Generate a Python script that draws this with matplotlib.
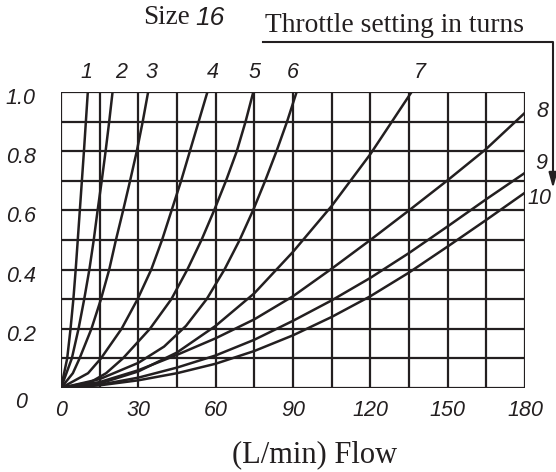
import matplotlib
matplotlib.use("Agg")
import matplotlib.pyplot as plt
import matplotlib.transforms as mtransforms
from matplotlib.lines import Line2D

# curves: flow (L/min) vs pressure (MPa), throttle turns 1..10
turns = ["1", "2", "3", "4", "5", "6", "7", "8", "9", "10"]

x1 = [0, 2.4, 3.7, 4.8, 5.7, 6.5, 7.3, 8.1, 8.9, 9.65, 10.4]
y1 = [0, 0.1, 0.2, 0.3, 0.4, 0.5, 0.6, 0.7, 0.8, 0.9, 1.0]
x2 = [0, 4.2, 6.8, 9.0, 11.0, 12.7, 14.2, 15.8, 17.3, 18.7, 20.0]
y2 = [0, 0.1, 0.2, 0.3, 0.4, 0.5, 0.6, 0.7, 0.8, 0.9, 1.0]
x3 = [0, 4.6, 7.2, 11.8, 15.5, 18.7, 21.3, 24.1, 26.8, 29.4, 31.7, 33.8]
y3 = [0, 0.05, 0.1, 0.2, 0.3, 0.4, 0.5, 0.6, 0.7, 0.8, 0.9, 1.0]
x4 = [0, 10.5, 15.5, 23.5, 29.7, 35.0, 39.2, 42.9, 46.6, 50.0, 53.4, 56.8]
y4 = [0, 0.05, 0.1, 0.2, 0.3, 0.4, 0.5, 0.6, 0.7, 0.8, 0.9, 1.0]
x5 = [0, 11.5, 17.5, 24.0, 34.5, 42.8, 49.0, 54.5, 59.4, 64.0, 68.2, 71.6, 74.6]
y5 = [0, 0.02, 0.05, 0.1, 0.2, 0.3, 0.4, 0.5, 0.6, 0.7, 0.8, 0.9, 1.0]
x6 = [0, 15, 30, 40, 48.5, 56.5, 63.4, 69.3, 74.5, 79.2, 83.6, 87.7, 91.4]
y6 = [0, 0.03, 0.085, 0.14, 0.21, 0.3, 0.4, 0.5, 0.6, 0.7, 0.8, 0.9, 1.0]
x7 = [0, 15, 30, 45, 60, 75, 90, 105, 120, 136]
y7 = [0, 0.015, 0.056, 0.12, 0.21, 0.32, 0.46, 0.615, 0.79, 1.0]
x8 = [0, 15, 30, 45, 60, 75, 90, 105, 120, 135, 150, 165, 180]
y8 = [0, 0.02, 0.06, 0.112, 0.168, 0.232, 0.31, 0.403, 0.5, 0.6, 0.702, 0.808, 0.93]
x9 = [0, 15, 30, 45, 60, 75, 90, 105, 120, 135, 150, 165, 180]
y9 = [0, 0.011, 0.035, 0.069, 0.11, 0.163, 0.227, 0.296, 0.372, 0.456, 0.546, 0.638, 0.727]
x10 = [0, 15, 30, 45, 60, 75, 90, 105, 120, 135, 150, 165, 180]
y10 = [0, 0.009, 0.026, 0.05, 0.082, 0.125, 0.178, 0.24, 0.31, 0.39, 0.478, 0.568, 0.66]

xs = [x1, x2, x3, x4, x5, x6, x7, x8, x9, x10]
ys = [y1, y2, y3, y4, y5, y6, y7, y8, y9, y10]

# where the turn numbers sit
label_x = [10.0, 23.5, 35, 59, 75, 90, 139, 184.5, 184, 181]
label_y = [1.065, 1.065, 1.065, 1.065, 1.065, 1.065, 1.065, 0.935, 0.76, 0.64]

xtick_vals = [0, 30, 60, 90, 120, 150, 180]
ytick_vals = [0, 0.2, 0.4, 0.6, 0.8, 1.0]
ytick_labels = ["0", "0.2", "0.4", "0.6", "0.8", "1.0"]

ink = "#231f20"
sans = "Liberation Sans"
serif = "Liberation Serif"

fig = plt.figure(figsize=(5.56, 4.72), dpi=100)
ax = fig.add_axes([61 / 556, 1 - 388 / 472, 464 / 556, 296 / 472])
ax.set_xlim(0, 180)
ax.set_ylim(0, 1.0)

# grid: 15 L/min by 0.1
for gx in range(0, 181, 15):
    ax.axvline(gx, color=ink, lw=1.6, zorder=1)
for i in range(11):
    ax.axhline(i / 10, color=ink, lw=1.6, zorder=1)

for x, y in zip(xs, ys):
    ax.plot(x, y, color=ink, lw=1.8, zorder=2, solid_joinstyle="round")

for t, lx, ly in zip(turns, label_x, label_y):
    ha = "center" if ly > 1 else "left"
    ax.text(lx, ly, t, ha=ha, va="center", fontsize=15.5, family=sans,
            style="italic", color=ink, clip_on=False)

for s in ax.spines.values():
    s.set_visible(False)

ax.set_xticks(xtick_vals)
ax.set_xticklabels([str(v) for v in xtick_vals], family=sans, style="italic", fontsize=15.5, color=ink)
ax.set_yticks(ytick_vals)
ax.set_yticklabels(ytick_labels, family=sans, style="italic", fontsize=15.5, color=ink)
ax.tick_params(axis="x", length=0, pad=9)
ax.tick_params(axis="y", length=0, pad=29)
shift = mtransforms.ScaledTranslation(0, -4 / 100, fig.dpi_scale_trans)
for lab in ax.get_yticklabels():
    lab.set_ha("center")
    lab.set_transform(lab.get_transform() + shift)
ax.get_yticklabels()[0].set_va("top")

ax.set_xlabel("(L/min) Flow", family=serif, fontsize=22, color=ink, va="center")
ax.xaxis.set_label_coords((315 - 61) / 464, -(455 - 388) / 296)

# titles at the top
fig.text(190 / 556, 1 - 18 / 472, "Size", family=serif, fontsize=19.5, ha="right", va="center", color=ink)
fig.text(195 / 556, 1 - 18 / 472, "16", family=sans, style="italic", fontsize=19, ha="left", va="center", color=ink)
fig.text(265 / 556, 1 - 25 / 472, "Throttle setting in turns", family=serif, fontsize=19.8,
         ha="left", va="center", color=ink)

# bracket line and arrow pointing down to curves 8-10
fig.add_artist(Line2D([263 / 556, 553 / 556, 553 / 556], [1 - 42 / 472, 1 - 42 / 472, 1 - 175 / 472],
                      transform=fig.transFigure, color=ink, lw=1.5))
ax.annotate("", xy=(553, 472 - 191), xytext=(553, 472 - 170), xycoords="figure pixels",
            textcoords="figure pixels",
            arrowprops=dict(arrowstyle="-|>,head_length=0.9,head_width=0.25", color=ink, lw=1.5))

fig.savefig("out.png", dpi=100)
